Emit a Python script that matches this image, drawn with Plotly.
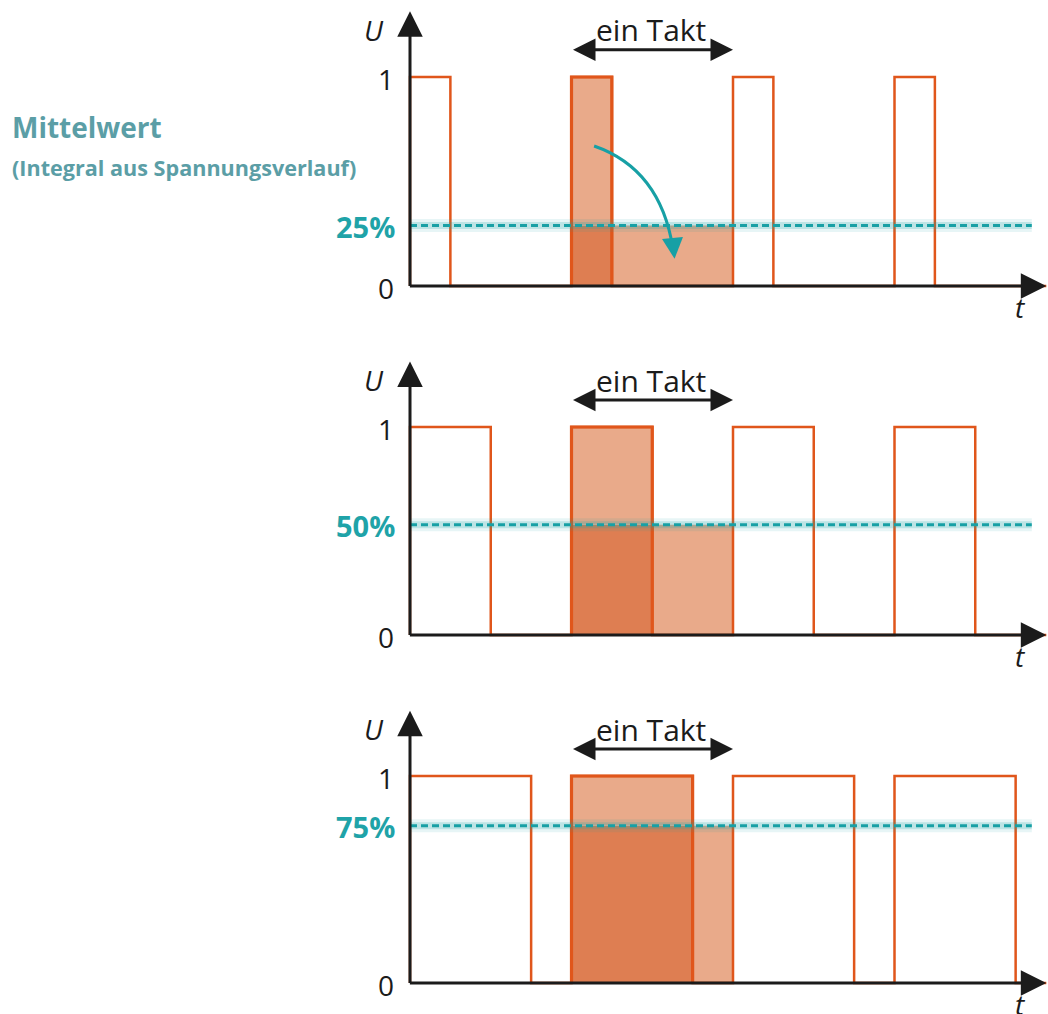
import plotly.graph_objects as go

# ---------------- data ----------------
duty_cycles = [0.25, 0.5, 0.75]          # pulse width per period
mean_levels = [0.29, 0.53, 0.76]         # drawn level of the dashed mean line
mean_labels = ["25%", "50%", "75%"]
pulse_starts = [0, 1, 2, 3]              # periods (t units)
highlight_period = 1                     # the "ein Takt" period
t_end = 3.94
y_ticks = [0, 1]
title_main = "Mittelwert"
title_sub = "(Integral aus Spannungsverlauf)"
takt_label = "ein Takt"

# ---------------- styles ----------------
W, H = 1048, 1014
ORANGE = "#E0561B"
LIGHT = "#E9AA8A"
DARK = "#DE7E52"
TEAL = "#17A0A5"
TEAL_TXT = "#1FA3A8"
TITLE_C = "#5B9EA6"
BLACK = "#1b1b1b"
FONT = "Open Sans"

zero_px = [286, 635, 983]
one_px = [77, 427, 776]
x0_px, period_px = 410, 161.5

fig = go.Figure()
layout = dict(width=W, height=H, margin=dict(l=0, r=0, t=0, b=0),
              paper_bgcolor="white", plot_bgcolor="rgba(0,0,0,0)",
              showlegend=False)
annotations, shapes = [], []

for i, (d, m, lab) in enumerate(zip(duty_cycles, mean_levels, mean_labels)):
    n = "" if i == 0 else str(i + 1)
    xr, yr = "x" + n, "y" + n
    s = zero_px[i] - one_px[i]
    bot, top = zero_px[i] + 30, one_px[i] - 75
    layout["xaxis" + n] = dict(domain=[0, 1], range=[-x0_px / period_px, (W - x0_px) / period_px],
                               visible=False, anchor=yr, fixedrange=True)
    layout["yaxis" + n] = dict(domain=[1 - bot / H, 1 - top / H], range=[-30 / s, 1 + 75 / s],
                               visible=False, anchor=xr, fixedrange=True)

    h = highlight_period
    # fills
    for xs, ys, c in [([h, h + d, h + d, h], [0, 0, m, m], DARK),
                      ([h, h + d, h + d, h], [m, m, 1, 1], LIGHT),
                      ([h + d, h + 1, h + 1, h + d], [0, 0, m, m], LIGHT)]:
        fig.add_trace(go.Scatter(x=xs + [xs[0]], y=ys + [ys[0]], mode="lines", fill="toself",
                                 fillcolor=c, line=dict(width=0), hoverinfo="skip",
                                 xaxis=xr, yaxis=yr))
    # waveform
    wx, wy = [], []
    for p in pulse_starts:
        wx += [p, p, p + d, p + d]
        wy += [0, 1, 1, 0]
    wx.append(t_end)
    wy.append(0)
    fig.add_trace(go.Scatter(x=wx, y=wy, mode="lines", line=dict(color=ORANGE, width=2.5),
                             hoverinfo="skip", xaxis=xr, yaxis=yr))
    fig.add_trace(go.Scatter(x=[h, h, h + d, h + d], y=[0, 1, 1, 0], mode="lines",
                             line=dict(color=ORANGE, width=3.2), hoverinfo="skip",
                             xaxis=xr, yaxis=yr))
    # mean line with glow
    fig.add_trace(go.Scatter(x=[0, 3.85], y=[m, m], mode="lines",
                             line=dict(color="rgba(23,160,165,0.10)", width=13),
                             hoverinfo="skip", xaxis=xr, yaxis=yr))
    fig.add_trace(go.Scatter(x=[0, 3.85], y=[m, m], mode="lines",
                             line=dict(color="rgba(23,160,165,0.20)", width=7),
                             hoverinfo="skip", xaxis=xr, yaxis=yr))
    fig.add_trace(go.Scatter(x=[0, 3.85], y=[m, m], mode="lines",
                             line=dict(color=TEAL, width=3, dash="7px,4px"),
                             hoverinfo="skip", xaxis=xr, yaxis=yr))

    # axes with arrows
    arrow = dict(showarrow=True, arrowhead=2, arrowwidth=3, arrowsize=1.7,
                 arrowcolor=BLACK, text="", xref=xr, yref=yr, axref=xr, ayref=yr, standoff=0)
    annotations.append(dict(arrow, x=0, y=1.315, ax=0, ay=-0.007))
    annotations.append(dict(arrow, x=t_end, y=0, ax=-0.01, ay=0))
    annotations.append(dict(arrow, x=h + 1, y=1.13, ax=h, ay=1.13, arrowside="end+start",
                            arrowsize=1.5))

    txt = dict(showarrow=False, xref=xr, yref=yr, font=dict(family=FONT, size=28, color=BLACK))
    annotations.append(dict(txt, x=-0.22, y=1.225, text="<i>U</i>"))
    for v in y_ticks:
        annotations.append(dict(txt, x=-0.15, y=v, text=str(v), yshift=-2))
    annotations.append(dict(txt, x=3.78, y=-0.1, text="<i>t</i>"))
    annotations.append(dict(txt, x=h + 0.49, y=1.225, text=takt_label,
                            font=dict(family=FONT, size=30, color=BLACK)))
    annotations.append(dict(showarrow=False, xref=xr, yref=yr, x=-0.08, y=m, xanchor="right",
                            text="<b>" + lab + "</b>", yshift=-1,
                            font=dict(family=FONT, size=29, color=TEAL_TXT)))

    if i == 0:
        # curved teal arrow: area moves from pulse down into the period
        sx, sy = 1.14, 0.67
        cx, cy = 1.55, 0.56
        ex, ey = 1.628, 0.18
        shapes.append(dict(type="path", xref=xr, yref=yr,
                           path=f"M {sx},{sy} Q {cx},{cy} {ex},{ey}",
                           line=dict(color=TEAL, width=3)))
        annotations.append(dict(showarrow=True, arrowhead=2, arrowwidth=3, arrowsize=1.4,
                                arrowcolor=TEAL, text="", xref=xr, yref=yr, axref=xr, ayref=yr,
                                x=1.638, y=0.13, ax=ex, ay=ey + 0.03, standoff=0))

annotations.append(dict(showarrow=False, xref="paper", yref="paper", x=10 / W, y=1 - 127 / H,
                        xanchor="left", yanchor="middle", text="<b>" + title_main + "</b>",
                        font=dict(family=FONT, size=28, color=TITLE_C)))
annotations.append(dict(showarrow=False, xref="paper", yref="paper", x=10 / W, y=1 - 168 / H,
                        xanchor="left", yanchor="middle", text="<b>" + title_sub + "</b>",
                        font=dict(family=FONT, size=21.6, color=TITLE_C)))

layout["annotations"] = annotations
layout["shapes"] = shapes
fig.update_layout(**layout)
fig.write_html("out.html", config={"displayModeBar": False},
               post_script="document.body.style.margin='0';document.body.style.overflow='hidden';")
